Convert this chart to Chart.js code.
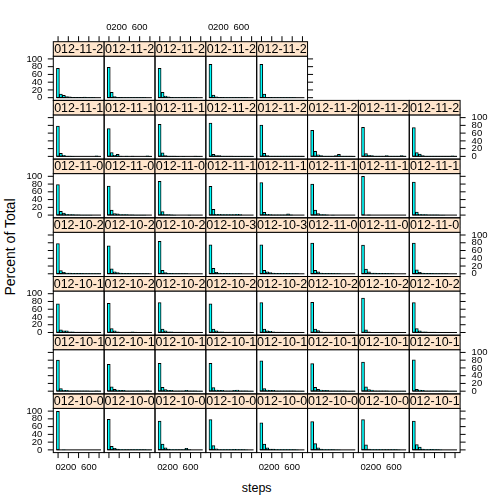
<!DOCTYPE html>
<html><head><meta charset="utf-8">
<script src="https://cdn.jsdelivr.net/npm/chart.js@4.4.1/dist/chart.umd.min.js"></script>
<style>
html,body{margin:0;padding:0;background:#fff;}
#wrap{position:relative;width:504px;height:504px;overflow:hidden;font-family:"Liberation Sans",Arial,Helvetica,sans-serif;}
#wrap canvas{position:absolute;left:0;top:0;pointer-events:none;}
.ttl{position:absolute;line-height:16px;color:#000;white-space:nowrap;}
#xlab{left:256.7px;top:487.7px;font-size:12.5px;transform:translate(-50%,-50%);}
#ylab{left:10px;top:247.2px;font-size:14px;transform:translate(-50%,-50%) rotate(-90deg);}
</style></head><body>
<div id="wrap">
<div class="ttl" id="xlab">steps</div>
<div class="ttl" id="ylab">Percent of Total</div>
</div>
<script>
// ---- categories (panel dates, bottom-left first, row by row) ----
const datesRow1 = ['2012-10-02','2012-10-03','2012-10-04','2012-10-05','2012-10-06','2012-10-07','2012-10-09','2012-10-10'];
const datesRow2 = ['2012-10-11','2012-10-12','2012-10-13','2012-10-14','2012-10-15','2012-10-16','2012-10-17','2012-10-18'];
const datesRow3 = ['2012-10-19','2012-10-20','2012-10-21','2012-10-22','2012-10-23','2012-10-24','2012-10-25','2012-10-26'];
const datesRow4 = ['2012-10-27','2012-10-28','2012-10-29','2012-10-30','2012-10-31','2012-11-02','2012-11-03','2012-11-05'];
const datesRow5 = ['2012-11-06','2012-11-07','2012-11-08','2012-11-11','2012-11-12','2012-11-13','2012-11-15','2012-11-16'];
const datesRow6 = ['2012-11-17','2012-11-18','2012-11-19','2012-11-20','2012-11-21','2012-11-22','2012-11-23','2012-11-24'];
const datesRow7 = ['2012-11-25','2012-11-26','2012-11-27','2012-11-28','2012-11-29'];

// ---- histogram bin breaks (steps) ----
const breaks = [-32.24, 25.79, 83.82, 141.86, 199.89, 257.92, 315.95, 373.98, 432.02, 490.05, 548.08, 606.11, 664.14, 722.18, 780.21, 838.24];

// ---- percent of total per bin, one list per panel ----
const pctRow1 = [
 [99.65,0,0.35,0,0,0,0,0,0,0,0,0,0,0,0],
 [79,9,4,2,1,1,0.5,0.5,0.5,1,1,0.5,0.5,0.3,0.3],
 [74,15,5,2,1,1,0.5,0.5,0.5,4,0.5,0,0,0,0],
 [78,11,3,1,1,1,1,1,1.5,1,1,0.5,0.3,0,0],
 [70,15,5,2,2,1,1,1,1,1,1,0.5,0.3,0,0],
 [73,16,5,2,1,1,1,0.5,0.3,0.3,0,0,0,0,0],
 [78,13,2,1,1,1,1,0.5,0.5,0.5,1,0.5,0.3,0,0],
 [74,14,7,2,1,1,1.5,1,0.5,0.3,0,0,0,0,0]
];
const pctRow2 = [
 [80,7,2,2,1,1,1,1,1,1,1,0.5,0.5,1,0.3],
 [69,11,5,3,2,2,1,1,1,1,1,1,1,1.5,0.5],
 [72,10,4,2,2,1,1,1,1,2,1,1,1,0.5,0.5],
 [72,9,3,2,2,1,1,1,2,3,1,1,1,0.5,0.5],
 [78,7,3,2,2,1,1,1,1,1,1,1,0.5,0.5,0.5],
 [71,10,5,3,2,2,1,1,1,1,1,1,0.5,0.5,0.5],
 [75,11,4,3,1,1,1,1,1,0.5,0.5,0.5,0.5,0.5,0.3],
 [81,5,3,2,1,1,1,1,1,1,1,1,0.5,0.5,0.5]
];
const pctRow3 = [
 [74,7,4,4,2,2,1,1,1,1,1,0.5,0.5,0.3,0.3],
 [75,10,4,2,1,1,1,1,2,1,0.5,0.5,0.5,0.3,0.3],
 [77,9,4,2,2,1,1,1,1,0.5,0.5,0.3,0.3,0.3,0.3],
 [74,9,4,2,2,1,1,1,1,1,1,1,1,1,0.5],
 [77,9,4,3,2,1,1,1,0.5,0.5,0.5,0.5,0.3,0.3,0],
 [78,9,5,2,1,1,1,1,0.5,0.5,0.5,0.3,0,0,0],
 [89,7,1.5,0.5,0.5,0.3,0.3,0.3,0.3,0,0,0,0,0,0],
 [77,10,4,2,2,1,1,1,0.5,0.5,0.5,0.3,0.3,0,0]
];
const pctRow4 = [
 [78,8,4,2,2,1,1,1,1,0.5,0.5,0.5,0.5,0.5,0.3],
 [72,13,5,3,2,1,1,1,0.5,0.5,0.3,0.3,0.3,0.3,0],
 [84,9,3,1,1,0.5,0.3,0.3,0.3,0.3,0,0,0,0,0],
 [75,14,4,2,1,1,1,0.5,0.5,0.5,0.3,0,0,0,0],
 [75,9,5,3,2,1,1,1,1,1,0.5,0.5,0.3,0,0],
 [79,9,5,2,1,1,1,1,0.5,0.5,0,0,0,0,0],
 [74,12,5,2,2,1,1,1,1,0.5,0.5,0,0,0,0],
 [79,10,4,2,1,1,1,0.5,0.5,0.3,0.3,0.3,0,0,0]
];
const pctRow5 = [
 [79,10,5,2,1,1,0.5,0.5,0.3,0.3,0.3,0.3,0,0,0],
 [75,13,4,3,1,1,1,0.5,0.5,0.3,0.3,0.3,0.3,0,0],
 [87,9,1.5,1,0.5,0.3,0,0,0,0,0.3,0,0,0,0],
 [74,15,2,2,1,1,1,1,1,2,1,0,0,0,0],
 [84,7,2,1,0.5,0.5,0.5,0.5,0.5,3,0.5,0,0,0,0],
 [80,13,4,1,1,0.5,0,0.3,0,0,0,0,0,0,0],
 [99.65,0,0.35,0,0,0,0,0,0,0,0,0,0,0,0],
 [85,8,2,1,1,0.5,0.5,0.5,0.5,0.3,0.3,0,0,0,0]
];
const pctRow6 = [
 [78,8,3,1,1,0.3,0,0,0,0,0,0,0,1.5,0],
 [72,10,3,5,0.5,0,1,0,0.5,0,0,0,0,1.5,0.3],
 [83,9,2,1,1,0.5,0.3,0,0.3,0,0,0,0.7,0.3,0],
 [86,5,2,2,1,1,0.5,0.5,0.3,0.3,0.3,0.3,0.3,0.3,0.3],
 [81,8,2,1,1,1,1,1,1,1,0.5,0.5,1,0.5,0.5],
 [67,13,4,2,1,1,1,1,2,5,1,1,0.5,0.5,0.3],
 [75,7,3,2,1,1,1,1,2,1,1,1,1,2,1],
 [74,10,6,2,1,1,1,1,0.5,0.5,0.5,0.5,0.5,1.5,0.5]
];
const pctRow7 = [
 [76,9,6,3,2,1,1,1,1,1.5,0.5,0.5,0.3,0,0],
 [78,14,3,1,1,0.5,0.5,0.5,0.3,0.3,0.3,0.3,0.3,0,0],
 [76,14,4,2,1,0.5,0.5,0.5,0.3,0.3,0.3,0.3,0.3,0,0],
 [86,7,2,1,1,0.5,0.5,0.5,0.5,0.3,0.3,0.3,0.3,0,0],
 [86,9,1,1,0.5,0.5,0.5,0.3,0.3,0.3,0.3,0.3,0,0,0]
];

// ---- tick values / labels ----
const xTicks = [0, 200, 400, 600, 800];
const xTickLabels = ['0', '200', '', '600', ''];
const yTicks = [0, 20, 40, 60, 80, 100];
const yTickLabels = ['0', '20', '40', '60', '80', '100'];

// ---- layout (pixels) ----
const W = 504, H = 504;
const LEFT0 = 53.3, PITCH_X = 50.85, TOP0 = 41.7, PITCH_Y = 58.7, STRIP_H = 14.5;
const NCOL = 8, NROW = 7, TICK = 5.5;
const FONT_TICK = '9.5px "Liberation Sans", Arial, sans-serif';
const FONT_STRIP = '12.5px "Liberation Sans", Arial, sans-serif';

const allDates = [].concat(datesRow1, datesRow2, datesRow3, datesRow4, datesRow5, datesRow6, datesRow7);
const allPct = [].concat(pctRow1, pctRow2, pctRow3, pctRow4, pctRow5, pctRow6, pctRow7);

const latticePanel = {
  id: 'latticePanel',
  afterDatasetsDraw(chart, args, o) {
    const ctx = chart.ctx, a = chart.chartArea;
    const xs = chart.scales.x, ys = chart.scales.y;
    ctx.save();
    ctx.strokeStyle = '#000'; ctx.lineWidth = 1;
    // zero-height bin outlines (baseline)
    const y0 = ys.getPixelForValue(0);
    ctx.beginPath();
    ctx.moveTo(xs.getPixelForValue(breaks[0]), y0);
    ctx.lineTo(xs.getPixelForValue(breaks[breaks.length - 1]), y0);
    ctx.stroke();
    // panel box
    ctx.strokeRect(a.left, a.top, a.right - a.left, a.bottom - a.top);
    // strip
    const st = a.top - STRIP_H;
    ctx.fillStyle = '#FFE5CC';
    ctx.fillRect(a.left, st, a.right - a.left, STRIP_H);
    ctx.save();
    ctx.beginPath(); ctx.rect(a.left, st, a.right - a.left, STRIP_H); ctx.clip();
    ctx.fillStyle = '#000'; ctx.font = FONT_STRIP;
    ctx.textAlign = 'center'; ctx.textBaseline = 'middle';
    ctx.fillText(o.label, (a.left + a.right) / 2, st + STRIP_H / 2 + 0.5);
    ctx.restore();
    ctx.strokeRect(a.left, st, a.right - a.left, STRIP_H);
    // ticks & labels
    ctx.fillStyle = '#000'; ctx.font = FONT_TICK; ctx.textBaseline = 'middle';
    const line = (x1, y1, x2, y2) => { ctx.beginPath(); ctx.moveTo(x1, y1); ctx.lineTo(x2, y2); ctx.stroke(); };
    yTicks.forEach((v, i) => {
      const y = ys.getPixelForValue(v);
      if (o.leftTicks) {
        line(a.left, y, a.left - TICK, y);
        if (o.leftLabels) { ctx.textAlign = 'right'; ctx.fillText(yTickLabels[i], a.left - 11, y); }
      }
      if (o.rightTicks) {
        line(a.right, y, a.right + TICK, y);
        if (o.rightLabels) { ctx.textAlign = 'left'; ctx.fillText(yTickLabels[i], a.right + 11.5, y); }
      }
    });
    xTicks.forEach((v, i) => {
      const x = xs.getPixelForValue(v);
      if (o.bottomTicks) {
        line(x, a.bottom, x, a.bottom + TICK);
        if (o.bottomLabels && xTickLabels[i]) { ctx.textAlign = 'center'; ctx.fillText(xTickLabels[i], x, a.bottom + 15); }
      }
      if (o.topTicks) {
        line(x, st, x, st - TICK);
        if (o.topLabels && xTickLabels[i]) { ctx.textAlign = 'center'; ctx.fillText(xTickLabels[i], x, st - 14); }
      }
    });
    ctx.restore();
  }
};

const wrap = document.getElementById('wrap');
allDates.forEach((d, i) => {
  const rb = Math.floor(i / NCOL), c = i % NCOL, r = NROW - 1 - rb;
  const left = LEFT0 + PITCH_X * c, right = left + PITCH_X;
  const stripTop = TOP0 + PITCH_Y * r, top = stripTop + STRIP_H, bottom = stripTop + PITCH_Y;
  const lastInRow = (c === NCOL - 1) || (i === allDates.length - 1);
  const cv = document.createElement('canvas');
  cv.width = W; cv.height = H; cv.style.width = W + 'px'; cv.style.height = H + 'px';
  wrap.appendChild(cv);
  const pct = allPct[i];
  new Chart(cv, {
    type: 'bar',
    data: {
      datasets: [{
        data: pct.map((v, k) => ({ x: (breaks[k] + breaks[k + 1]) / 2, y: v })),
        backgroundColor: '#00FFFF', borderColor: '#000000', borderWidth: 1,
        borderSkipped: false, barPercentage: 1, categoryPercentage: 1
      }]
    },
    options: {
      responsive: false, animation: false, devicePixelRatio: 1, events: [],
      layout: { padding: { left: left, top: top, right: W - right, bottom: H - bottom } },
      plugins: {
        legend: { display: false }, tooltip: { enabled: false }, title: { display: false },
        latticePanel: {
          label: d,
          leftTicks: c === 0, leftLabels: c === 0 && r % 2 === 0,
          rightTicks: lastInRow, rightLabels: c === NCOL - 1 && r % 2 === 1,
          bottomTicks: rb === 0, bottomLabels: rb === 0 && c % 2 === 0,
          topTicks: r === 0, topLabels: r === 0 && c % 2 === 1
        }
      },
      scales: {
        x: { type: 'linear', min: -93.2, max: 899.2, display: false, offset: false },
        y: { type: 'linear', min: -7, max: 107, display: false }
      }
    },
    plugins: [latticePanel]
  });
});
</script>
</body></html>
